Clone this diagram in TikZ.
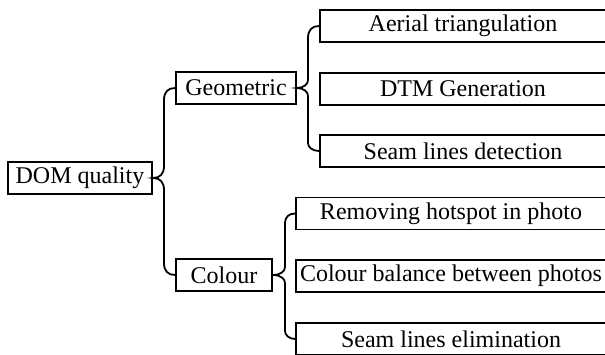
\documentclass[tikz,border=0pt]{standalone}
\usepackage{fontspec}
\setmainfont{Liberation Serif}
\begin{document}
\begin{tikzpicture}[x=0.5pt,y=-0.5pt,
  box/.style={draw,line width=0.9pt,inner sep=0pt,minimum height=16pt,font=\fontsize{12}{14}\selectfont},
  brace/.style={line width=0.9pt}]
\useasboundingbox (0,0) rectangle (605,354);
\clip (0,0) rectangle (605,354);
\node[box,minimum width=72pt] (dom) at (80,178) {DOM quality};
\node[box,minimum width=60pt] (geo) at (236,88) {Geometric};
\node[box,minimum width=48pt] (col) at (224,275) {Colour};
\node[box,minimum width=143pt] (aer) at (463,26) {Aerial triangulation};
\node[box,minimum width=143pt] (dtm) at (463,89) {DTM Generation};
\node[box,minimum width=143pt] (sld) at (463,151) {Seam lines detection};
\node[box,minimum width=155pt] (rem) at (451,213.5) {Removing hotspot in photo};
\node[box,minimum width=155pt] (cbal) at (451,276) {Colour balance between photos};
\node[box,minimum width=155pt] (sle) at (451,339) {Seam lines elimination};
% braces
\draw[brace] (geo.west) .. controls (168,88) and (164,92) .. (164,100) -- (164,166)
  .. controls (164,174) and (160,178) .. (dom.east)
  .. controls (160,178) and (164,182) .. (164,190) -- (164,263)
  .. controls (164,271) and (168,275) .. (col.west);
\draw[brace] (aer.west) .. controls (312,26) and (308,30) .. (308,38) -- (308,80)
  .. controls (308,84) and (304,88) .. (geo.east)
  .. controls (304,88) and (308,92) .. (308,96) -- (308,143)
  .. controls (308,147) and (312,151) .. (sld.west);
\draw[brace] (rem.west) .. controls (289,213.5) and (285,217) .. (285,223) -- (285,267)
  .. controls (285,271) and (281,275) .. (col.east)
  .. controls (281,275) and (285,279) .. (285,283) -- (285,331)
  .. controls (285,335) and (289,339) .. (sle.west);
\end{tikzpicture}
\end{document}
